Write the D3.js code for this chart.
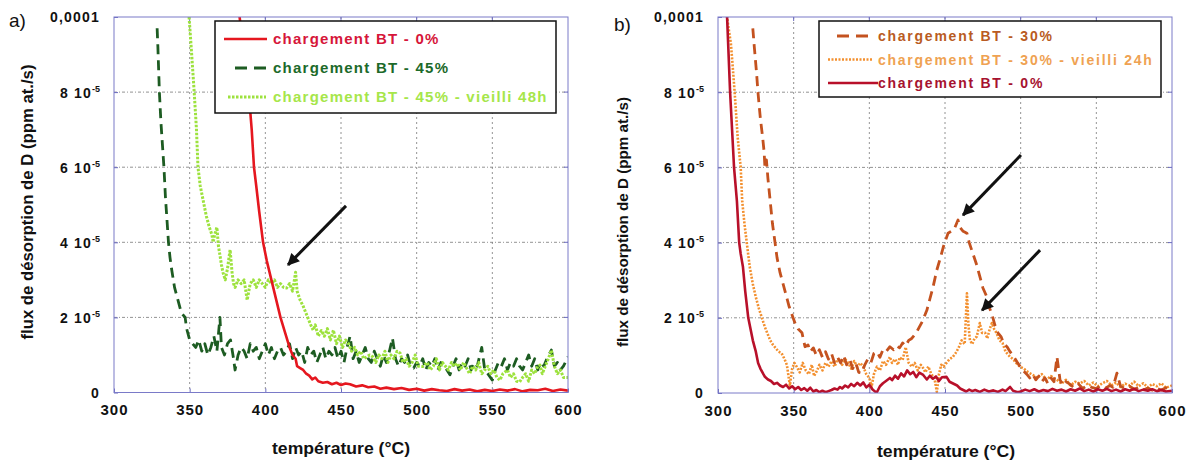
<!DOCTYPE html>
<html>
<head>
<meta charset="utf-8">
<script src="https://cdn.jsdelivr.net/npm/d3@7"></script>
<style>
  body { margin: 0; background: #fff; }
  svg { display: block; font-family: "Liberation Sans", Arial, sans-serif; }
</style>
</head>
<body>
<svg id="chart" width="1196" height="461"></svg>
<script>
// values: [temperature (°C), flux in 1e-6 ppm at./s]
let a_bt0 = [[380,105],[383,100],[386,90],[389,80],[391,70],[392.5,60],[394,55],[396,48],[398.5,40],[401,35],[404,30],[407,25],[410,20],[413,16],[416,12],[418,10],[420,9],[421,7],[423,6.5],[425,6],[427,5],[429,4.5],[431,3.5],[433,4],[435,3],[438,2.6],[441,2.8],[444,2.2],[447,2.6],[450,2.0],[453,2.4],[456,2.2],[460,1.6],[464,1.9],[468,1.4],[472,1.6],[476,1.0],[480,1.3],[485,0.9],[490,1.2],[495,0.7],[500,1.0],[505,0.5],[510,0.9],[515,0.6],[520,0.4],[525,0.9],[530,0.5],[535,0.8],[540,0.3],[545,0.7],[550,0.4],[555,0.8],[560,0.5],[565,0.9],[570,0.3],[575,0.7],[580,0.6],[585,1.0],[590,0.4],[595,0.8],[600,0.5]];

let a_bt45 = [[328.5,97],[329,92],[330,80],[331,72],[332,66],[333,60],[334,52],[335,46],[336,40],[337,36],[338,33],[340,28],[342,25],[344,22],[345,21],[347,20],[348,17],[350,14],[352,13],[354,12],[356,14],[358,11],[360,13],[362,10],[364,12],[366,15],[368,11],[370,20],[371,12],[373,10],[375,13],[377,14],[379,9],[380,6],[382,10],[384,12],[386,11],[388,9],[390,13],[392,11],[394,12],[396,9],[398,11],[400,13],[402,10],[404,12],[406,9],[408,11],[410,12],[412,10],[414,11],[416,13],[418,9],[420,12],[422,10],[424,11],[426,8],[428,12],[430,10],[432,11],[434,8],[436,10],[438,12],[440,9],[442,11],[444,10],[446,12],[448,9],[450,11],[452,8],[454,12],[456,15],[458,9],[460,11],[462,8],[464,10],[466,12],[468,9],[470,8],[472,11],[474,9],[476,7],[478,10],[480,8],[482,11],[484,14.5],[486,9],[488,7],[490,9],[492,8],[494,10],[496,7],[498,6.5],[500,8],[502,7],[504,9],[506,6],[508,8],[510,7],[512,9],[514,6],[516,8],[518,7],[520,6],[522,4.7],[524,7],[526,9],[528,6],[530,8],[532,7],[534,9],[536,6],[538,8],[540,7],[543,12],[545,6],[547,5],[550,3.3],[552,6],[554,8],[556,7],[558,9],[560,6],[562,8],[564,7],[566,9],[568,7],[570,6],[572,8],[574,10],[576,7],[578,9],[580,6],[582,8],[584,7],[586,9],[589,11.3],[591,7],[593,8],[595,6],[597,7],[600,9.5]];

let a_bt45aged = [[349.6,100],[351,92],[353,80],[354.5,70],[355.5,60],[357,55],[359,51],[361,47],[363,44],[364.7,42],[365.5,40],[366.5,42],[368,44],[369,39],[370,36.6],[371,34],[372,32],[373.5,30],[375,33],[376.7,38],[378,32],[379,29],[380,28],[382,30],[384,29],[386,30],[388,24.6],[390,29],[392,30],[394,28],[396,30],[398,29],[400,28],[402,30],[404,29],[406,30],[408,28],[410,29],[412,28],[414,27.8],[416,29],[418,27],[420,32],[421,27],[423,24.6],[425,23],[427,21],[428,20],[430,18],[431.6,16.6],[433,18],[435,15],[437,16.5],[439,15],[441,17],[443,14],[445,16.6],[447,13],[449,15],[451,12],[453,14],[455,13],[457,11],[459,12],[461,10],[463,11],[465,9],[467,9.5],[469,10],[471,9.5],[473,8],[475,10],[477,9],[479,11],[481,8],[483,10],[485,9],[487,11],[489,10.5],[491,8],[493,9],[495,7],[497,8],[499,10],[501,7],[504,6.9],[507,8],[509,6],[511,7],[513,9],[515,6],[517,8],[519,7],[521,6],[523,8],[525,7],[527,7.8],[529,6],[531,8],[533,6.5],[535,5],[537,7],[539,6],[541,8],[543,5],[545,6],[547,7],[549,5],[551,6],[553,4],[555,3.3],[557,5],[560,6],[562,4],[564,5],[566,3],[568,2.8],[570,4],[572,5],[574,3],[576,6],[578,5],[580,7],[581.5,7.3],[583,5],[585,7],[587,9],[589,11.3],[591,7],[593,5],[595,6],[597,4],[600,4]];

let b_bt30 = [[323,97],[324,92],[325.5,85],[326.4,80],[328,73],[329.5,68],[330.5,64],[331,60],[332,62],[333,57],[334.5,51],[336,45],[337.7,40],[339,36],[341,32],[343,29],[345,26],[347,23],[349.6,20],[351,18.5],[353,17],[355.5,16],[357.5,12.3],[359.5,12.8],[361,11],[363,12],[365,10],[367,11.5],[369,9.5],[371,11],[373,9],[375,10.5],[377,8],[379,9.5],[381,8],[383,10],[385,7.5],[387,9],[389,6.5],[391,8],[393,5.5],[395,5.3],[397,7.5],[399,9],[401,8],[403,10.5],[405,11],[407,9.5],[409,11.5],[411,11],[413.6,12.3],[416,11.5],[418,12.5],[420,12],[422,13.3],[424,12.5],[426,14],[428,14.5],[431,16],[433,17.5],[435,19],[438,22],[440,25],[442,28],[444.6,32.7],[447,36],[449,39],[452,42.5],[454,43],[456,43.5],[458.6,46],[460,44],[462,43],[464.5,42.5],[466,40],[468.5,37],[471,34],[473,31],[475,28],[477.6,25.6],[479,23],[481,21],[483,18],[485,16],[487,15],[489,13],[491,12.3],[493,11],[496,9.3],[498,8],[501.5,6],[504,5],[506,4],[508,5],[510,3.5],[512,4.5],[514,3],[516,4],[518,2.5],[520,4],[522,3],[524,9.6],[526,3.5],[528,2],[530,3],[532,2.5],[535,1.5],[538,2.5],[541,1.2],[544,2],[547,1.5],[550,1.2],[553,2],[556,1.3],[559,2],[561,1.5],[563.6,5.3],[566,1.8],[569,1.2],[572,1.8],[575,1],[578,1.5],[581,0.8],[584,1.3],[587,0.7],[590,1.2],[593,0.8],[596,1.4],[600,0.8]];

let b_bt30aged = [[305,105],[306,100],[307,97],[308.5,93],[309.5,88],[311,80],[312,74],[313,68],[315,60],[316,51],[317.5,45],[319,40],[321,33.5],[323,29],[325,25.5],[327,22.5],[329,20],[331,17.5],[332.5,16],[334.5,14],[336,13],[338,12],[340,11],[342,10.6],[344,9],[345.5,7.5],[347.5,2],[349,6.5],[350.5,8],[352,7],[354,5.5],[356,8],[358,6],[360,5],[362,7.5],[363.5,4.5],[365.5,6],[367,7.5],[369,6],[371,8],[373,7],[375,8.5],[377,7],[379,9],[380.6,8.8],[382,7.5],[384,9],[386,8],[388,6.5],[390,8.5],[392,7],[394,8],[396,7],[398,5],[400,4],[401.5,1.6],[403,5],[405,7],[407,6],[409,8.5],[411,7.5],[413.6,9.6],[415,8],[417,9],[419,7.5],[420,9.5],[422,8.8],[424,12.2],[426,8],[428,7],[430,8],[432,6],[434,7.5],[435.6,6.6],[437,5.5],[439,7],[441,5],[443,4],[444.6,0.3],[446,5],[447.5,7.5],[449,7],[451,8],[453,9],[455,9.5],[457,10.6],[459,12],[461,14],[463,13],[464.5,26.5],[465.5,18],[466.5,14],[468,13],[469.5,14.5],[471,15],[473,18.6],[474.5,16],[476.5,16],[478,14.5],[479.5,17],[481,18.6],[482.5,17],[484,16],[486,14],[488,13.3],[490,11],[493,9.6],[495,9],[497,8],[499.6,7],[502,6.5],[505,5.5],[508,4.8],[511,4],[514,5],[517,3.5],[520,4.5],[524,3.5],[527,2.5],[530,3.5],[533,2],[536,3],[539,2.5],[542,3.2],[545,2],[548,2.8],[551,1.8],[554,2.6],[557,3.2],[560,2],[563,2.8],[566,1.6],[569,2.5],[572,2],[575,3],[578,1.8],[581,2.6],[584,1.5],[587,2.4],[590,1.8],[593,2.6],[596,1.4],[600,2]];

let b_bt0 = [[305,105],[306,100],[307,90],[308,80],[309.3,70],[310.6,60],[312.5,51],[314,40],[315,37],[316.5,33.5],[318,27],[320,20],[321.5,17],[323,14],[325,11],[326.5,8],[328,6.5],[330,5],[331,4.3],[333,3.6],[335,3.2],[337,2.4],[339,2.7],[341,2.0],[343,1.6],[345,2.2],[347,1.2],[349,1.8],[351,1.0],[353,1.6],[355,0.8],[357,1.3],[359,0.6],[361,1.4],[363,0.4],[365,0.8],[367,0.2],[369,0.6],[371,0.2],[373,0.5],[375,0.8],[377,1.2],[379,0.9],[380.6,1.6],[382,1.2],[384,2.0],[386,1.5],[388,2.4],[390,1.8],[392,2.7],[394,2.0],[396,2.8],[398,1.5],[400,2.2],[402,1.0],[404,0.3],[405,0.2],[407,1.8],[409,2.6],[411,3.2],[413.6,4],[415,3.4],[417,4.6],[419,3.8],[421,5.2],[423,4.4],[425,6],[427,5.0],[429,5.6],[431,4.2],[433,5.4],[435.6,4.8],[438,3.6],[440,4.6],[442,3.8],[444,4.4],[446,3.2],[448,4.2],[451,4.3],[453,3.0],[455,2.6],[458,2],[460,1.2],[462,0.8],[464,0.4],[466,0.9],[468,0.5],[470,0.8],[473,0.3],[476,0.9],[479,0.4],[482,0.7],[485,0.3],[488,0.9],[490,0.5],[493,1.6],[495,0.6],[498,0.2],[500,0.4],[503,0.9],[506,0.5],[509,1.0],[512,0.4],[515,0.8],[518,0.5],[521,1.1],[524,0.6],[527,0.9],[530,0.4],[533,1.0],[536,0.6],[539,1.2],[542,0.5],[545,0.9],[548,0.4],[551,1.0],[554,0.6],[557,1.1],[560,0.5],[563,0.9],[566,0.4],[569,1.0],[572,0.6],[575,1.1],[578,0.5],[581,0.9],[584,0.6],[587,1.0],[590,0.5],[593,0.8],[596,0.4],[600,0.6]];

// axis ticks
let xTicks = [300, 350, 400, 450, 500, 550, 600];
let yTicks = [0, 20, 40, 60, 80, 100];
let yTickMain = ["0", "2 10", "4 10", "6 10", "8 10", "0,0001"];
let yTickExp = ["", "-5", "-5", "-5", "-5", ""];

let legendA = ["chargement BT - 0%", "chargement BT - 45%", "chargement BT - 45% - vieilli 48h"];
let legendB = ["chargement BT - 30%", "chargement BT - 30% - vieilli 24h", "chargement BT - 0%"];

// arrows: [tailT, tailV, headT, headV]
let arrowsA = [[453.3, 49.7, 415, 34]];
let arrowsB = [[500.2, 63.3, 461.9, 47.3], [512.8, 38, 474.5, 22]];

let svg = d3.select("#chart");

let defs = svg.append("defs");
defs.append("marker")
    .attr("id", "head")
    .attr("viewBox", "0 0 10 10")
    .attr("refX", 9).attr("refY", 5)
    .attr("markerWidth", 4.5).attr("markerHeight", 4)
    .attr("markerUnits", "strokeWidth")
    .attr("orient", "auto")
  .append("path")
    .attr("d", "M0,0 L10,5 L0,10 z")
    .attr("fill", "#111");

function drawPanel(p) {
    let x = d3.scaleLinear().domain([300, 600]).range([p.left, p.right]);
    let y = d3.scaleLinear().domain([0, 100]).range([p.bottom, p.top]);

    let g = svg.append("g");

    defs.append("clipPath").attr("id", p.id + "clip")
      .append("rect")
        .attr("x", p.left).attr("y", p.top)
        .attr("width", p.right - p.left).attr("height", p.bottom - p.top);

    // grid
    g.append("g").selectAll("line")
        .data(xTicks.slice(1, -1))
        .join("line")
        .attr("x1", d => x(d)).attr("x2", d => x(d))
        .attr("y1", p.top).attr("y2", p.bottom)
        .attr("stroke", "#777").attr("stroke-width", 0.8)
        .attr("stroke-dasharray", "2,3");
    g.append("g").selectAll("line")
        .data(yTicks.slice(1, -1))
        .join("line")
        .attr("y1", d => y(d)).attr("y2", d => y(d))
        .attr("x1", p.left).attr("x2", p.right)
        .attr("stroke", "#777").attr("stroke-width", 0.8)
        .attr("stroke-dasharray", "3,2,1,2");

    // axes
    let xAxis = d3.axisBottom(x).tickValues(xTicks).tickSize(-4).tickPadding(10).tickFormat(d3.format("d"));
    let gx = g.append("g")
        .attr("transform", "translate(0," + p.bottom + ")")
        .call(xAxis);
    gx.select(".domain").remove();
    gx.selectAll("line").attr("stroke", "#6c6cc0");
    gx.selectAll("text")
        .attr("font-size", 15).attr("font-weight", "bold")
        .attr("letter-spacing", 1).attr("fill", "#111")
        .attr("dy", "0.71em").attr("y", 12);

    let yAxis = d3.axisLeft(y).tickValues(yTicks).tickSize(-4).tickPadding(14).tickFormat("");
    let gy = g.append("g")
        .attr("transform", "translate(" + p.left + ",0)")
        .call(yAxis);
    gy.select(".domain").remove();
    gy.selectAll("line").attr("stroke", "#6c6cc0");
    gy.selectAll(".tick text")
        .attr("font-size", 14).attr("font-weight", "bold")
        .attr("letter-spacing", 1.2).attr("fill", "#111")
        .attr("dy", "0.35em")
        .each(function(d, i) {
            let t = d3.select(this);
            t.append("tspan").text(yTickMain[i]);
            if (yTickExp[i]) {
                t.append("tspan").text(yTickExp[i])
                    .attr("font-size", 9).attr("letter-spacing", 0)
                    .attr("dy", -6);
            }
        });

    // right / top ticks
    g.append("g").selectAll("line").data(yTicks.slice(1, -1)).join("line")
        .attr("x1", p.right).attr("x2", p.right - 4)
        .attr("y1", d => y(d)).attr("y2", d => y(d))
        .attr("stroke", "#6c6cc0");
    g.append("g").selectAll("line").data(xTicks.slice(1, -1)).join("line")
        .attr("y1", p.top).attr("y2", p.top + 4)
        .attr("x1", d => x(d)).attr("x2", d => x(d))
        .attr("stroke", "#6c6cc0");

    // curves
    let line = d3.line().x(d => x(d[0])).y(d => y(d[1]));
    let curves = g.append("g").attr("clip-path", "url(#" + p.id + "clip)");
    p.series.forEach(s => {
        curves.append("path")
            .datum(s.data)
            .attr("d", line)
            .attr("fill", "none")
            .attr("stroke", s.color)
            .attr("stroke-width", s.width)
            .attr("stroke-linejoin", "round")
            .attr("stroke-dasharray", s.dash);
    });

    // frame
    g.append("rect")
        .attr("x", p.left).attr("y", p.top)
        .attr("width", p.right - p.left).attr("height", p.bottom - p.top)
        .attr("fill", "none").attr("stroke", "#7a7ac8").attr("stroke-width", 1);

    // arrows
    g.append("g").selectAll("line").data(p.arrows).join("line")
        .attr("x1", d => x(d[0])).attr("y1", d => y(d[1]))
        .attr("x2", d => x(d[2])).attr("y2", d => y(d[3]))
        .attr("stroke", "#111").attr("stroke-width", 3)
        .attr("marker-end", "url(#head)");

    // legend
    let L = p.legend;
    g.append("rect")
        .attr("x", L.x).attr("y", L.y).attr("width", L.w).attr("height", L.h)
        .attr("fill", "#fff").attr("stroke", "#111").attr("stroke-width", 1.5);
    L.labels.forEach((lab, i) => {
        let s = L.order[i];
        let ry = L.y + L.rowStart + i * L.rowGap;
        g.append("line")
            .attr("x1", L.sample[i][0]).attr("x2", L.sample[i][1])
            .attr("y1", ry).attr("y2", ry)
            .attr("stroke", s.color).attr("stroke-width", s.width)
            .attr("stroke-dasharray", s.legendDash || s.dash);
        g.append("text")
            .attr("x", L.textX).attr("y", ry + L.fs * 0.36)
            .attr("font-size", L.fs).attr("font-weight", "bold")
            .attr("letter-spacing", L.ls)
            .attr("fill", s.text)
            .text(lab);
    });

    // titles
    g.append("text")
        .attr("x", (p.left + p.right) / 2 + p.xTitleDx).attr("y", p.xTitleY)
        .attr("text-anchor", "middle")
        .attr("font-size", 16).attr("font-weight", "bold").attr("fill", "#111")
        .attr("textLength", 138).attr("lengthAdjust", "spacingAndGlyphs")
        .text("température (°C)");
    g.append("text")
        .attr("transform", "translate(" + p.yTitle.x + "," + p.yTitle.y + ") rotate(-90)")
        .attr("text-anchor", "middle")
        .attr("font-size", p.yTitle.fs).attr("font-weight", p.yTitle.weight).attr("fill", "#111")
        .attr("textLength", p.yTitle.len).attr("lengthAdjust", "spacingAndGlyphs")
        .text("flux de désorption de D (ppm at./s)");
    g.append("text")
        .attr("x", p.tag.x).attr("y", p.tag.y)
        .attr("font-size", 19).attr("fill", "#111")
        .text(p.tag.t);
}

let sA0 = {data: a_bt0, color: "#e5171f", text: "#d6163a", width: 2.6, dash: null};
let sA45 = {data: a_bt45, color: "#1d5c22", text: "#1c6a2a", width: 2.8, dash: "10,6", legendDash: "12,7"};
let sA45v = {data: a_bt45aged, color: "#9de23e", text: "#a6e64a", width: 3, dash: "2.5,1.5"};

drawPanel({
    id: "a", left: 114, right: 568, top: 17, bottom: 392.5,
    series: [sA45, sA45v, sA0],
    arrows: arrowsA,
    legend: {x: 215, y: 21, w: 341, h: 92, rowStart: 18, rowGap: 29, textX: 273, fs: 15, ls: 1.25,
             labels: legendA, order: [sA0, sA45, sA45v],
             sample: [[224, 267], [235, 266], [228, 266]]},
    xTitleY: 454, xTitleDx: 0,
    yTitle: {x: 33, y: 202, fs: 17, weight: "bold", len: 275},
    tag: {x: 9, y: 27, t: "a)"}
});

let sB30 = {data: b_bt30, color: "#c4521f", text: "#b95b22", width: 2.8, dash: "10,6", legendDash: "12,7"};
let sB30v = {data: b_bt30aged, color: "#f3902f", text: "#efa252", width: 2.6, dash: "2,1.5"};
let sB0 = {data: b_bt0, color: "#b8102a", text: "#a6122f", width: 2.6, dash: null};

drawPanel({
    id: "b", left: 718, right: 1172, top: 17, bottom: 393,
    series: [sB30v, sB30, sB0],
    arrows: arrowsB,
    legend: {x: 819, y: 21, w: 342, h: 76, rowStart: 15, rowGap: 23.5, textX: 878, fs: 14, ls: 1.75,
             labels: legendB, order: [sB30, sB30v, sB0],
             sample: [[837, 872], [828, 872], [828, 878]]},
    xTitleY: 457, xTitleDx: 1,
    yTitle: {x: 628, y: 222, fs: 15, weight: "bold", len: 250},
    tag: {x: 614, y: 31, t: "b)"}
});
</script>
</body>
</html>
